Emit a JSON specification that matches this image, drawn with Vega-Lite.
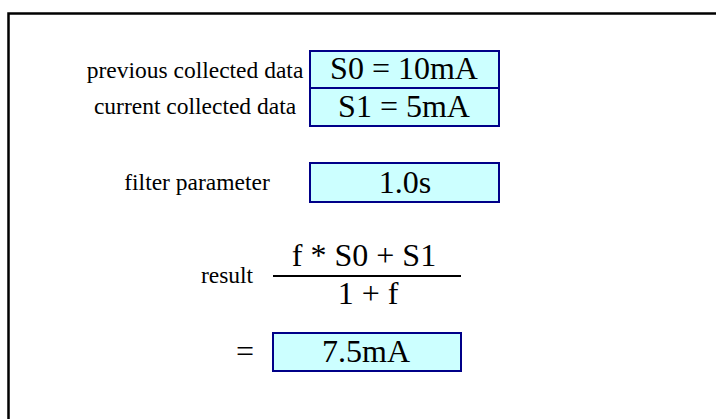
{
  "$schema": "https://vega.github.io/schema/vega-lite/v6.json",
  "width": 716,
  "height": 419,
  "autosize": {"type": "none"},
  "padding": 0,
  "background": "white",
  "config": {"view": {"stroke": null}},
  "datasets": {
    "frame": [{"part": "frame", "x1": 8.5, "y1": 13.5, "x2": 730, "y2": 430}],
    "boxes": [
      {"item": "S0", "x1": 310, "x2": 499, "y1": 51, "y2": 88},
      {"item": "S1", "x1": 310, "x2": 499, "y1": 88, "y2": 126},
      {"item": "filter", "x1": 310, "x2": 499, "y1": 163, "y2": 202},
      {"item": "result", "x1": 273, "x2": 461, "y1": 333, "y2": 371}
    ],
    "lines": [{"item": "fraction", "x1": 273, "x2": 461, "y": 276}],
    "labels": [
      {"text": "previous collected data", "x": 195, "y": 78},
      {"text": "current collected data", "x": 195, "y": 114},
      {"text": "filter parameter", "x": 197, "y": 190},
      {"text": "result", "x": 227, "y": 283}
    ],
    "values": [
      {"text": "S0 = 10mA", "x": 404, "y": 79},
      {"text": "S1 = 5mA", "x": 404, "y": 117},
      {"text": "1.0s", "x": 405, "y": 193},
      {"text": "f * S0 + S1", "x": 364, "y": 266},
      {"text": "1 + f", "x": 368, "y": 304},
      {"text": "=", "x": 245, "y": 362},
      {"text": "7.5mA", "x": 366, "y": 362}
    ]
  },
  "layer": [
    {
      "data": {"name": "frame"},
      "mark": {"type": "rect", "fill": null, "stroke": "black", "strokeWidth": 2.5},
      "encoding": {
        "x": {"field": "x1", "type": "quantitative", "scale": {"domain": [0, 716], "nice": false, "zero": false}, "axis": null},
        "x2": {"field": "x2"},
        "y": {"field": "y1", "type": "quantitative", "scale": {"domain": [0, 419], "nice": false, "zero": false, "reverse": true}, "axis": null},
        "y2": {"field": "y2"}
      }
    },
    {
      "data": {"name": "boxes"},
      "mark": {"type": "rect", "fill": "#ccffff", "stroke": "#000088", "strokeWidth": 2},
      "encoding": {
        "x": {"field": "x1", "type": "quantitative", "axis": null},
        "x2": {"field": "x2"},
        "y": {"field": "y1", "type": "quantitative", "axis": null},
        "y2": {"field": "y2"}
      }
    },
    {
      "data": {"name": "lines"},
      "mark": {"type": "rule", "stroke": "black", "strokeWidth": 2},
      "encoding": {
        "x": {"field": "x1", "type": "quantitative", "axis": null},
        "x2": {"field": "x2"},
        "y": {"field": "y", "type": "quantitative", "axis": null}
      }
    },
    {
      "data": {"name": "labels"},
      "mark": {"type": "text", "font": "Liberation Serif", "fontSize": 23.5, "align": "center", "baseline": "alphabetic", "color": "black"},
      "encoding": {
        "x": {"field": "x", "type": "quantitative", "axis": null},
        "y": {"field": "y", "type": "quantitative", "axis": null},
        "text": {"field": "text"}
      }
    },
    {
      "data": {"name": "values"},
      "mark": {"type": "text", "font": "Liberation Serif", "fontSize": 32, "align": "center", "baseline": "alphabetic", "color": "black"},
      "encoding": {
        "x": {"field": "x", "type": "quantitative", "axis": null},
        "y": {"field": "y", "type": "quantitative", "axis": null},
        "text": {"field": "text"}
      }
    }
  ]
}
